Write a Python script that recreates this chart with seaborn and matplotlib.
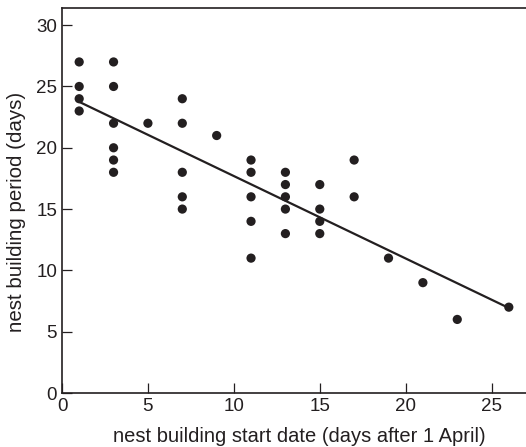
import numpy as np
import pandas as pd
import matplotlib
matplotlib.use("Agg")
import matplotlib.pyplot as plt
import seaborn as sns

# data
start_date = [1, 1, 1, 1,
              3, 3, 3, 3, 3, 3,
              5,
              7, 7, 7, 7, 7,
              9,
              11, 11, 11, 11, 11,
              13, 13, 13, 13, 13,
              15, 15, 15, 15,
              17, 17,
              19, 21, 23, 26]
period = [27, 25, 24, 23,
          27, 25, 22, 20, 19, 18,
          22,
          24, 22, 18, 16, 15,
          21,
          19, 18, 16, 14, 11,
          18, 17, 16, 15, 13,
          17, 15, 14, 13,
          19, 16,
          11, 9, 6, 7]
x_ticks = [0, 5, 10, 15, 20, 25]
y_ticks = [0, 5, 10, 15, 20, 25, 30]

df = pd.DataFrame({"start": start_date, "period": period})

sns.set_theme(style="white")
plt.rcParams["font.family"] = ["Liberation Sans", "DejaVu Sans"]
ink = "#231f20"

fig = plt.figure(figsize=(5.26, 4.47), dpi=100)
ax = fig.add_axes([62 / 526, 54 / 447, 1 - 62 / 526, (393 - 8) / 447])

sns.regplot(data=df, x="start", y="period", ax=ax, ci=None,
            scatter_kws=dict(s=44, color=ink, edgecolor="none", alpha=1),
            line_kws=dict(color=ink, lw=1.6))

ax.set_xlim(0, 27)
ax.set_ylim(0, 31.4)
ax.set_xticks(x_ticks)
ax.set_yticks(y_ticks)
ax.tick_params(direction="in", length=7, width=0.9, color=ink,
               labelsize=13.5, labelcolor=ink, pad=3.5,
               bottom=True, left=True, top=False, right=False)
for side in ["left", "bottom", "top"]:
    ax.spines[side].set_color(ink)
    ax.spines[side].set_linewidth(1.2)
ax.spines["right"].set_visible(False)

ax.set_xlabel("nest building start date (days after 1 April)", fontsize=14.5, color=ink)
ax.set_ylabel("nest building period (days)", fontsize=14.8, color=ink)
ax.xaxis.set_label_coords(0.512, -0.088)
ax.yaxis.set_label_coords(-0.078, 0.47)

fig.savefig("out.png", dpi=100)
